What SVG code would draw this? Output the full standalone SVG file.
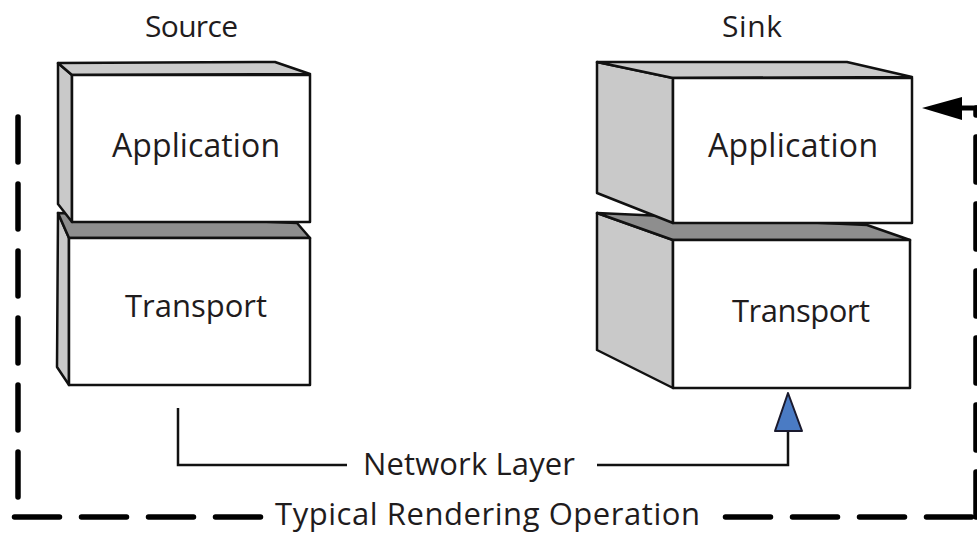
<svg xmlns="http://www.w3.org/2000/svg" width="977" height="533" viewBox="0 0 977 533">
  <style>
    .face-front { fill: #ffffff; stroke: #111; stroke-width: 2.5; stroke-linejoin: round; }
    .face-side { fill: #c9c9c9; stroke: #111; stroke-width: 2.5; stroke-linejoin: round; }
    .face-top-light { fill: #cbcbcb; stroke: #111; stroke-width: 2.5; stroke-linejoin: round; }
    .face-top-dark { fill: #8e8e8e; stroke: #111; stroke-width: 2.5; stroke-linejoin: round; }
    .lbl { font-family: "Open Sans", "Liberation Sans", sans-serif; fill: #1f1c1d; }
    .wire { fill: none; stroke: #111; stroke-width: 2.5; }
    .dash { fill: none; stroke: #000; stroke-width: 5.5; stroke-linecap: round; stroke-dasharray: 45 22; }
  </style>

  <!-- column headings -->
  <text class="lbl" x="145" y="37" font-size="30" textLength="93">Source</text>
  <text class="lbl" x="722" y="37" font-size="30" textLength="60">Sink</text>

  <!-- Source stack (lower block drawn first so the upper one sits on top) -->
  <g id="source-transport">
    <polygon class="face-side" points="58,213 69,238 69,385 57,367"/>
    <polygon class="face-top-dark" points="58,213 297,223 310,238 69,238"/>
    <rect class="face-front" x="69" y="238" width="241" height="147"/>
    <text class="lbl" x="125" y="317" font-size="31" textLength="142">Transport</text>
  </g>
  <g id="source-application">
    <polygon class="face-side" points="58,63 72,75 72,222 58,204"/>
    <polygon class="face-top-light" points="58,63 275,62 310,74 72,75"/>
    <rect class="face-front" x="72" y="75" width="238" height="147"/>
    <text class="lbl" x="112" y="157" font-size="32" textLength="168">Application</text>
  </g>

  <!-- Sink stack -->
  <g id="sink-transport">
    <polygon class="face-side" points="597,213 673,240 673,388 597,350"/>
    <polygon class="face-top-dark" points="597,213 867,225 910,240 673,240"/>
    <rect class="face-front" x="673" y="240" width="237" height="148"/>
    <text class="lbl" x="732" y="322" font-size="31" textLength="138">Transport</text>
  </g>
  <g id="sink-application">
    <polygon class="face-side" points="597,62 673,78 673,223 597,193"/>
    <polygon class="face-top-light" points="597,62 847,62 912,77 673,78"/>
    <rect class="face-front" x="673" y="78" width="239" height="145"/>
    <text class="lbl" x="708" y="157" font-size="32" textLength="170">Application</text>
  </g>

  <!-- connectors -->
  <g id="connectors">
    <!-- network layer path: source transport to sink transport -->
    <polyline class="wire" points="178,408 178,465 347,465"/>
    <polyline class="wire" points="597,465 788,465 788,430"/>
    <polygon points="788,393 775,431 802,431" fill="#4a7bc4" stroke="#1a1a2e" stroke-width="2" stroke-linejoin="round"/>
    <text class="lbl" x="363" y="475" font-size="31" textLength="212">Network Layer</text>

    <!-- rendering loop: dashed return path -->
    <line class="dash" x1="18" y1="117" x2="18" y2="503"/>
    <line class="dash" x1="14.5" y1="517" x2="267" y2="517"/>
    <line class="dash" x1="725.5" y1="517" x2="990" y2="517"/>
    <line class="dash" x1="976" y1="517" x2="976" y2="108"/>
    <line x1="960" y1="108" x2="977" y2="108" stroke="#000" stroke-width="5"/>
    <polygon points="922,108 962,97 962,120" fill="#000"/>
    <text class="lbl" x="275" y="525" font-size="31" textLength="425">Typical Rendering Operation</text>
  </g>
</svg>
